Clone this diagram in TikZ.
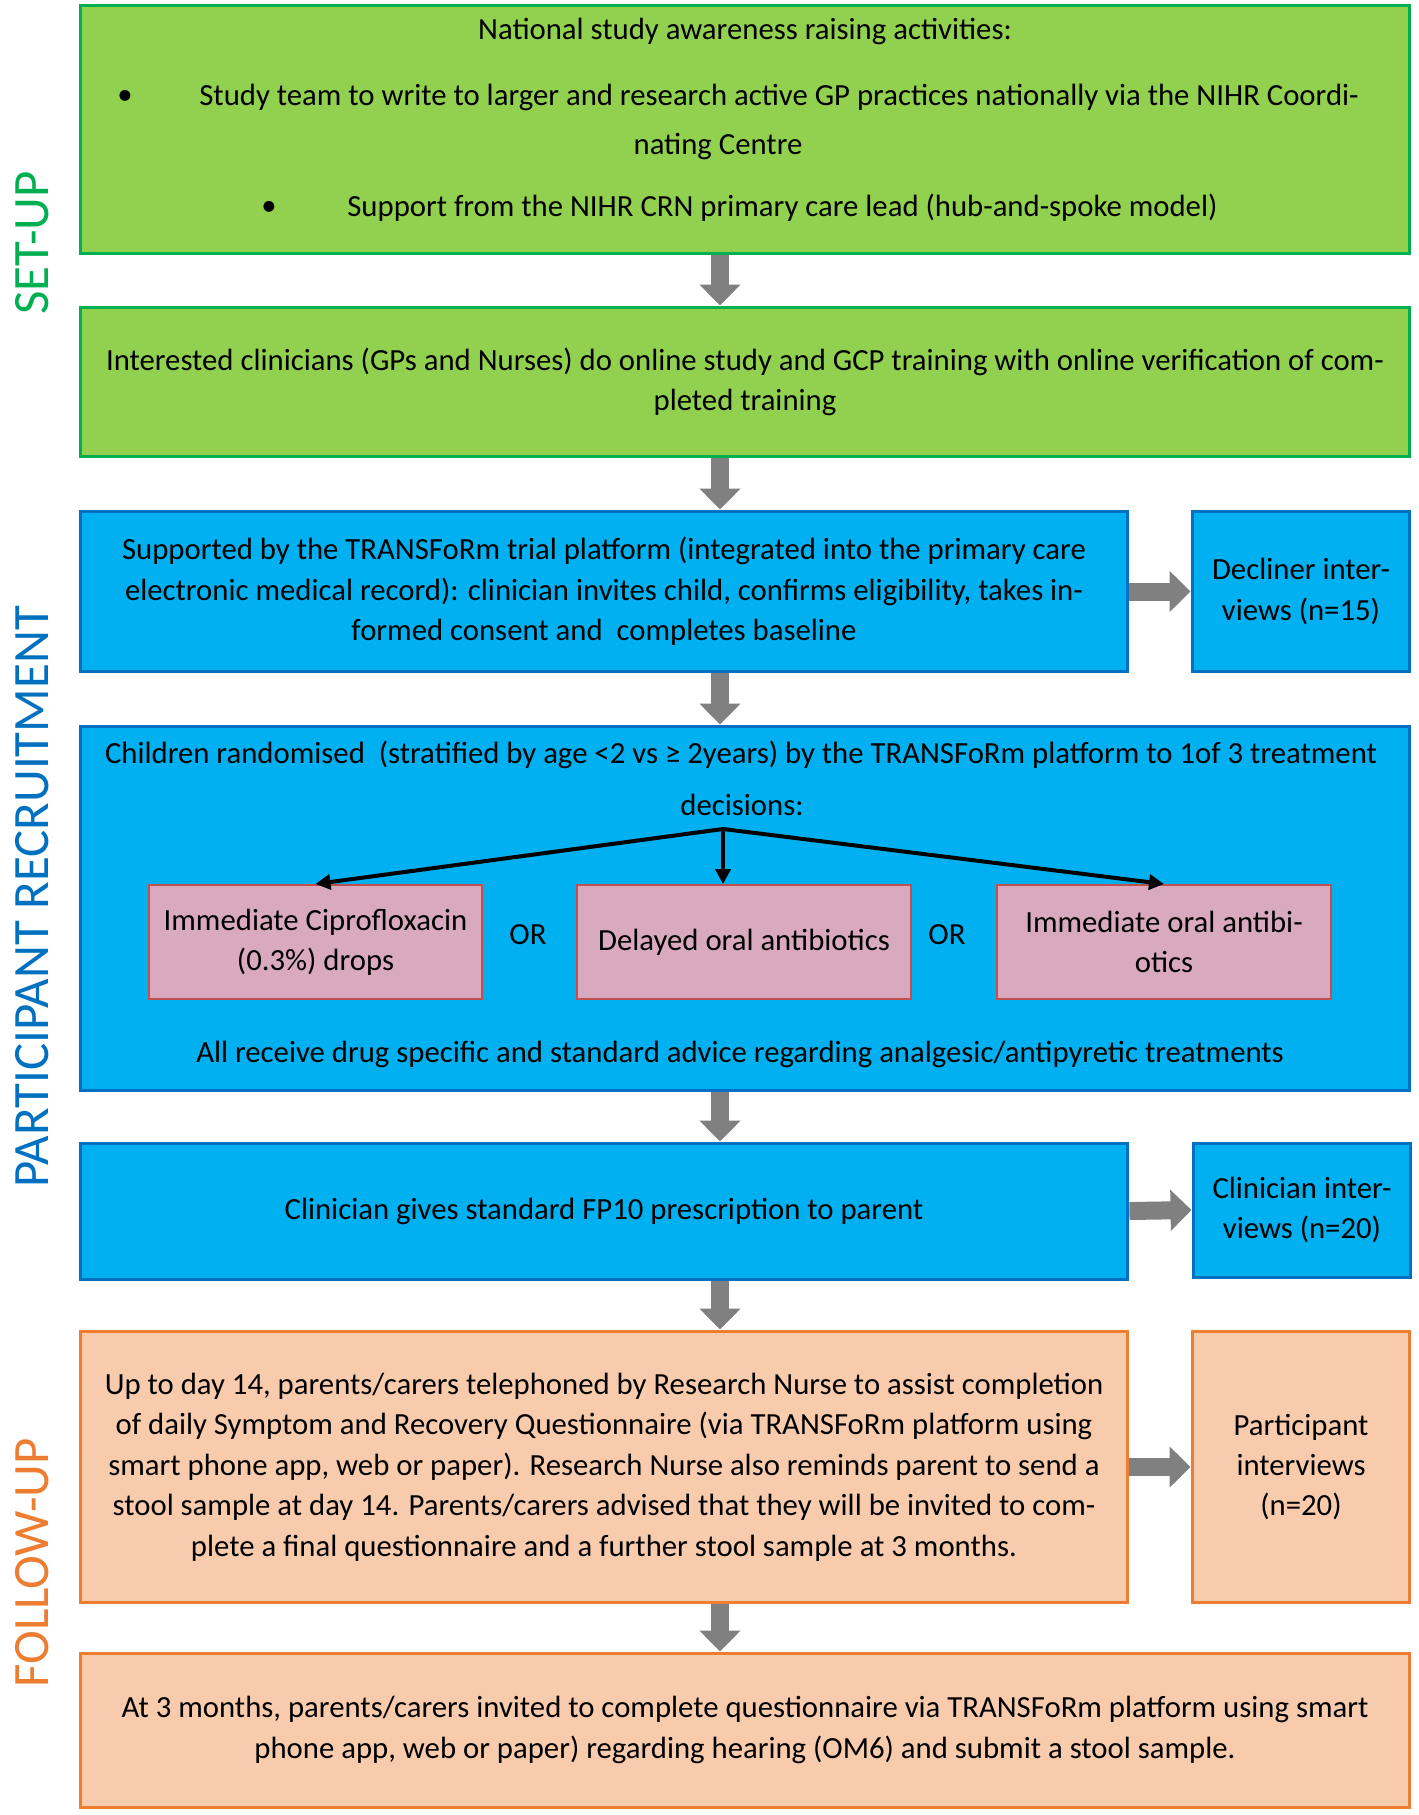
\documentclass[tikz,border=0pt]{standalone}
\usepackage{fontspec}
\setmainfont{Carlito}
\usepackage{tikz}
\usetikzlibrary{arrows.meta, positioning}

\definecolor{setupfill}{HTML}{92D050}
\definecolor{setupline}{HTML}{00B050}
\definecolor{recfill}{HTML}{00B0F0}
\definecolor{recline}{HTML}{0070C0}
\definecolor{armfill}{HTML}{D9AABF}
\definecolor{armline}{HTML}{C0504D}
\definecolor{fupfill}{HTML}{F8CBAD}
\definecolor{fupline}{HTML}{ED7D31}
\definecolor{arrowgray}{HTML}{808080}

\tikzset{
	txt/.style={inner sep=0pt, font=\fontsize{17.5}{23}\selectfont},
	box/.style={line width=0.06cm, inner sep=0pt, align=center, font=\fontsize{17.5}{23}\selectfont},
	greenbox/.style={box, fill=setupfill, draw=setupline},
	bluebox/.style={box, fill=recfill, draw=recline},
	armbox/.style={box, line width=0.04cm, fill=armfill, draw=armline, minimum width=6.67cm, minimum height=2.28cm},
	orangebox/.style={box, fill=fupfill, draw=fupline},
	bigarrow/.style={draw=arrowgray, line width=0.36cm, -{Triangle[length=0.42cm,width=0.8cm]}},
	branch/.style={line width=0.08cm, -{Triangle[length=0.3cm,width=0.3cm]}},
	phase/.style={rotate=90, inner sep=0pt, font=\fontsize{29}{34}\selectfont}
}

\begin{document}
\begin{tikzpicture}[x=0.02cm, y=-0.02cm]
	\useasboundingbox (0,0) rectangle (1418,1815);
	% Phase labels:
	\node[phase, text=setupline] (setup) at (32,243) {SET-UP};
	\node[phase, text=recline] (recruit) at (32,897) {PARTICIPANT RECRUITMENT};
	\node[phase, text=fupline] (followup) at (32,1563) {FOLLOW-UP};
	% Set-up boxes:
	\node[greenbox, minimum width=26.6cm, minimum height=4.98cm] (b1) at (745,129.5) {};
	\node[txt] (aware) at (745,31) {National study awareness raising activities:};
	\node[txt] (bulA) at (125,97) {\textbullet};
	\node[txt, anchor=west] (awareA) at (199,97) {Study team to write to larger and research active GP practices nationally via the NIHR Coordi-};
	\node[txt] (awareB) at (718,147) {nating Centre};
	\node[txt] (bulB) at (269,208) {\textbullet};
	\node[txt, anchor=west] (awareC) at (347,208) {Support from the NIHR CRN primary care lead (hub-and-spoke model)};
	\node[greenbox, minimum width=26.6cm, minimum height=3cm] (b2) at (745,382) {Interested clinicians (GPs and Nurses) do online study and GCP training with online verification of com-\\pleted training};
	% Recruitment boxes:
	\node[bluebox, minimum width=20.96cm, minimum height=3.22cm] (b3) at (604,591.5) {Supported by the TRANSFoRm trial platform (integrated into the primary care\\electronic medical record): clinician invites child, confirms eligibility, takes in-\\formed consent and \ completes baseline};
	\node[bluebox, minimum width=4.36cm, minimum height=3.22cm] (dec) at (1301,591.5) {Decliner inter-\\views (n=15)};
	\node[bluebox, minimum width=26.6cm, minimum height=7.3cm] (b4) at (745,908.5) {};
	\node[txt] (rand) at (741,755) {Children randomised \ (stratified by age <2 vs ≥ 2years) by the TRANSFoRm platform to 1of 3 treatment};
	\node[txt] (randB) at (742,805) {decisions:};
	\node[armbox] (p1) at (315.5,942) {Immediate Ciprofloxacin\\(0.3\%) drops};
	\node[armbox] (p2) at (744,942) {Delayed oral antibiotics};
	\node[armbox] (p3) at (1164,942) {Immediate oral antibi-\\otics};
	\node[txt] (orA) at (528,935) {OR};
	\node[txt] (orB) at (947,935) {OR};
	\node[txt] (advice) at (740,1054) {All receive drug specific and standard advice regarding analgesic/antipyretic treatments};
	\node[bluebox, minimum width=20.96cm, minimum height=2.72cm] (b5) at (604,1211) {Clinician gives standard FP10 prescription to parent};
	\node[bluebox, minimum width=4.36cm, minimum height=2.68cm] (clin) at (1302,1210) {Clinician inter-\\views (n=20)};
	% Follow-up boxes:
	\node[orangebox, minimum width=20.96cm, minimum height=5.44cm] (b6) at (604,1467) {Up to day 14, parents/carers telephoned by Research Nurse to assist completion\\of daily Symptom and Recovery Questionnaire (via TRANSFoRm platform using\\smart phone app, web or paper). Research Nurse also reminds parent to send a\\stool sample at day 14. Parents/carers advised that they will be invited to com-\\plete a final questionnaire and a further stool sample at 3 months.};
	\node[orangebox, minimum width=4.36cm, minimum height=5.44cm] (part) at (1301,1467) {Participant\\interviews\\(n=20)};
	\node[orangebox, minimum width=26.6cm, minimum height=3.08cm] (b7) at (745,1730) {At 3 months, parents/carers invited to complete questionnaire via TRANSFoRm platform using smart\\phone app, web or paper) regarding hearing (OM6) and submit a stool sample.};
	% Arrows:
	\coordinate (spine) at (720,0);
	\draw[bigarrow] (b1.south -| spine) -- (b2.north -| spine);
	\draw[bigarrow] (b2.south -| spine) -- (b3.north -| spine);
	\draw[bigarrow] (b3.south -| spine) -- (b4.north -| spine);
	\draw[bigarrow] (b4.south -| spine) -- (b5.north -| spine);
	\draw[bigarrow] (b5.south -| spine) -- (b6.north -| spine);
	\draw[bigarrow] (b6.south -| spine) -- (b7.north -| spine);
	\draw[bigarrow] (b3.east) -- (dec.west);
	\draw[bigarrow] (b5.east) -- (clin.west);
	\draw[bigarrow] (b6.east) -- (part.west);
	\coordinate (split) at (723,829);
	\draw[branch] (split) -- (p1.north);
	\draw[branch] (split) -- (split |- p2.north);
	\draw[branch] (split) -- (p3.north);
\end{tikzpicture}
\end{document}
